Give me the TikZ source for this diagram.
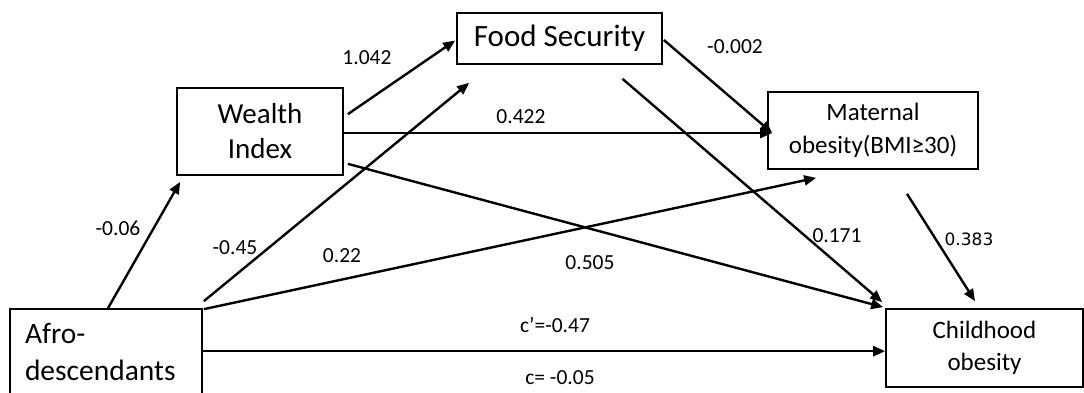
\documentclass[tikz,border=0pt]{standalone}
\usepackage{fontspec}
\setmainfont{Carlito}
\newfontfamily\dejavu{DejaVu Sans}
\usetikzlibrary{arrows.meta}
\begin{document}
\begin{tikzpicture}[x=1pt,y=-1pt,
  box/.style={draw, line width=1.7pt, inner sep=0pt, align=center},
  bigtxt/.style={font=\fontsize{29}{36}\selectfont},
  smalltxt/.style={font=\fontsize{25}{33}\selectfont},
  lab/.style={font=\fontsize{21.5}{25}\selectfont, inner sep=0pt},
  arr/.style={line width=2.4pt, -{Triangle[length=12pt,width=10pt]}}]
\useasboundingbox (0,0) rectangle (1084,392);
% boxes
\node[box, minimum width=192pt, minimum height=92pt, text width=162pt, align=left,
      font=\fontsize{29.5}{37}\selectfont] (afro) at (106,355) {Afro-\\descendants\rule[-6pt]{0pt}{1pt}};
\node[box, minimum width=166pt, minimum height=87pt, font=\fontsize{29}{35}\selectfont] (wealth) at (260,131.5) {Wealth\\Index};
\node[box, minimum width=205pt, minimum height=51pt, font=\fontsize{31}{36}\selectfont] (food) at (559.5,38.5) {Food Security};
\node[box, smalltxt, minimum width=210pt, minimum height=77pt] (maternal) at (873,130.5) {Maternal\\obesity(BMI≥30)};
\node[box, minimum width=197pt, minimum height=78pt, font=\fontsize{25}{32}\selectfont] (child) at (984.5,348) {Childhood\\obesity};
% connectors
\draw[arr] ([shift={(2,0)}]afro.north) -- ([shift={(4,6)}]wealth.south west);
\draw[arr] ([shift={(1,-7)}]afro.north east) -- ([shift={(13,18)}]food.south west);
\draw[arr] ([shift={(1,1)}]afro.north east) -- ([shift={(49,8)}]maternal.south west);
\coordinate (cs) at ([shift={(0,43)}]afro.north east);
\draw[arr] (cs) -- (cs -| child.west);
\draw[arr] ([shift={(4,27)}]wealth.north east) -- ([shift={(-1,2)}]food.west);
\coordinate (ws) at ([shift={(0,1.5)}]wealth.east);
\coordinate (me) at ([shift={(5,2.5)}]maternal.west);
\draw[arr] (ws) -- (ws -| me);
\draw[arr] ([shift={(4,-12)}]wealth.south east) -- ([shift={(-2,-1)}]child.north west);
\draw[arr] ([shift={(1,1.5)}]food.east) -- (me);
\draw[arr] ([shift={(63,14)}]food.south) -- ([shift={(-3,-6)}]child.north west);
\draw[arr] ([shift={(34,24)}]maternal.south) -- ([shift={(-9.5,-7)}]child.north);
% labels
\node[lab] (l1) at (118,228) {-0.06};
\node[lab] (l2) at (235,248) {-0.45};
\node[lab] (l3) at (342,256) {0.22};
\node[lab] (l4) at (367,58) {1.042};
\node[lab] (l5) at (521,117) {0.422};
\node[lab] (l6) at (735,47) {-0.002};
\node[lab] (l7) at (590,263) {0.505};
\node[lab] (l8) at (837,236) {0.171};
\node[lab, font=\dejavu\fontsize{17}{20}\selectfont] (l9) at (969,239) {0.383};
\node[lab] (l10) at (555,325) {c’=-0.47};
\node[lab] (l11) at (560,378) {c= -0.05};
\end{tikzpicture}
\end{document}
